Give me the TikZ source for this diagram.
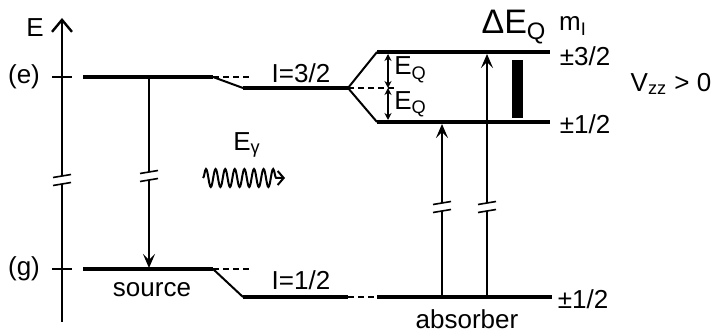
\documentclass[tikz,border=0pt]{standalone}
\usepackage{fontspec}
\setmainfont{Liberation Sans}
\usetikzlibrary{arrows.meta,decorations.pathmorphing}
\tikzset{
  level/.style={line width=2pt},
  slant/.style={line width=1pt},
  ghost/.style={line width=0.8pt,dash pattern=on 3pt off 2pt},
  trans/.style={line width=1pt,-{Stealth[length=7pt,width=6pt,inset=3pt]}},
  split/.style={line width=0.7pt,{Stealth[length=3.5pt,width=3.5pt]}-{Stealth[length=3.5pt,width=3.5pt]}},
  lbl/.style={inner sep=0pt,font=\fontsize{13}{15}\selectfont},
  gap/.pic={
    \fill[white] (-9,-2.5) -- (9,-5.5) -- (9,2.5) -- (-9,5.5) -- cycle;
    \draw[line width=0.8pt] (-9,-2.5) -- (9,-5.5) (-9,5.5) -- (9,2.5);
  }
}
\begin{document}
\begin{tikzpicture}[x=0.5pt,y=-0.5pt]
  \useasboundingbox (0,0) rectangle (713,331);
  % energy axis
  \coordinate (ax0) at (62,322);
  \coordinate (ax1) at (62,18);
  \draw[line width=1.2pt,-{Straight Barb[length=6pt,width=10pt,line width=1.2pt]}] (ax0) -- (ax1);
  \pic at (62,180) {gap};
  \node[lbl] (E) at (35,28) {E};
  \node[lbl] (elab) at (24,77) {(e)};
  \node[lbl] (glab) at (24,269) {(g)};
  \coordinate (et0) at (52,77);
  \coordinate (et1) at (72,77);
  \coordinate (gt0) at (52,269);
  \coordinate (gt1) at (72,269);
  \draw[line width=1.2pt] (et0) -- (et1);
  \draw[line width=1.2pt] (gt0) -- (gt1);
  % source levels
  \coordinate (e0) at (83,77);
  \coordinate (e1) at (213,77);
  \coordinate (e2) at (243,88);
  \coordinate (e3) at (250,77);
  \coordinate (g0) at (83,269);
  \coordinate (g1) at (213,269);
  \coordinate (g2) at (243,297);
  \coordinate (g3) at (250,269);
  \draw[level] (e0) -- (e1);
  \draw[level] (g0) -- (g1);
  \draw[slant] (e1) -- (e2);
  \draw[slant] (g1) -- (g2);
  \draw[ghost] (e1) -- (e3);
  \draw[ghost] (g1) -- (g3);
  \node[lbl] (src) at (152,290) {source};
  % decay in the source
  \coordinate (s0) at (149,77);
  \coordinate (s1) at (149,268);
  \draw[trans] (s0) -- (s1);
  \pic at (149,176) {gap};
  % gamma ray
  \coordinate (w0) at (203,178);
  \coordinate (w1) at (285,178);
  \draw[line width=1pt,-{Straight Barb[length=3pt,width=7pt]},
    decorate,decoration={snake,amplitude=4.5pt,segment length=4.8pt,post length=3pt}]
    (w0) -- (w1);
  \node[lbl] (Eg) at (247,145) {E\textsubscript{γ}};
  % absorber levels
  \coordinate (q0) at (243,88);
  \coordinate (q1) at (348,88);
  \coordinate (q2) at (397,88);
  \coordinate (hi0) at (377,52);
  \coordinate (hi1) at (550,52);
  \coordinate (lo0) at (377,122);
  \coordinate (lo1) at (550,122);
  \coordinate (h0) at (243,297);
  \coordinate (h1) at (348,297);
  \coordinate (h2) at (377,297);
  \coordinate (h3) at (552,297);
  \draw[level] (q0) -- (q1);
  \draw[slant] (q1) -- (hi0);
  \draw[slant] (q1) -- (lo0);
  \draw[ghost] (q1) -- (q2);
  \draw[level] (hi0) -- (hi1);
  \draw[level] (lo0) -- (lo1);
  \draw[level] (h0) -- (h1);
  \draw[ghost] (h1) -- (h2);
  \draw[level] (h2) -- (h3);
  \node[lbl] (I3) at (301,73) {I=3/2};
  \node[lbl] (I1) at (301,280) {I=1/2};
  \node[lbl] (abs) at (467,319) {absorber};
  % quadrupole splitting
  \coordinate (qt) at (388,54);
  \coordinate (qm) at (388,88);
  \coordinate (qb) at (388,120);
  \draw[split] (qt) -- (qm);
  \draw[split] (qm) -- (qb);
  \node[lbl,anchor=west] (eq1) at (394,70) {E\textsubscript{Q}};
  \node[lbl,anchor=west] (eq2) at (394,104) {E\textsubscript{Q}};
  % absorption
  \coordinate (a0) at (442,297);
  \coordinate (a1) at (442,124);
  \coordinate (b0) at (487,297);
  \coordinate (b1) at (487,54);
  \draw[trans] (a0) -- (a1);
  \draw[trans] (b0) -- (b1);
  \pic at (442,207) {gap};
  \pic at (487,207) {gap};
  \node[fill,inner sep=0pt,minimum width=5.5pt,minimum height=29pt] (bar) at (517,89) {};
  \node[lbl,font=\fontsize{17}{19}\selectfont] (dEQ) at (514,27) {ΔE\textsubscript{Q}};
  % magnetic quantum numbers
  \node[lbl] (mI) at (573,26) {m\textsubscript{I}};
  \node[lbl] (m3) at (585,56) {±3/2};
  \node[lbl] (m1) at (585,124) {±1/2};
  \node[lbl] (m0) at (583,299) {±1/2};
  \node[lbl] (vzz) at (671,84) {V\textsubscript{zz} > 0};
\end{tikzpicture}
\end{document}
